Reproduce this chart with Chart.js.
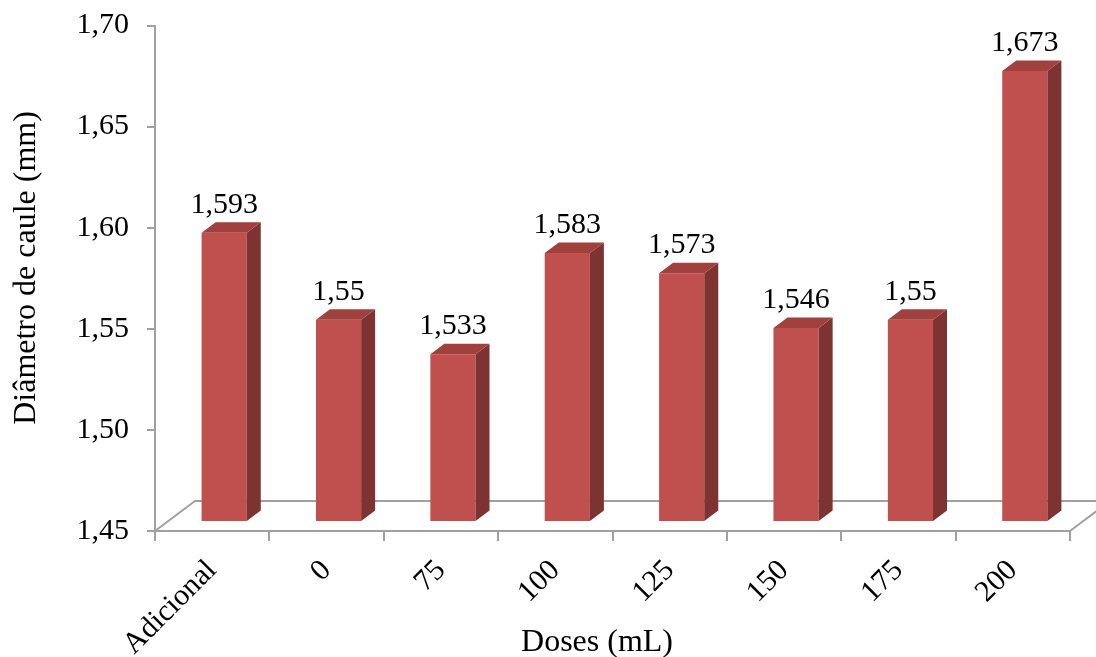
<!DOCTYPE html>
<html>
<head>
<meta charset="utf-8">
<title>Diâmetro de caule</title>
<script src="https://cdn.jsdelivr.net/npm/chart.js@4/dist/chart.umd.min.js"></script>
<style>
  html, body { margin: 0; padding: 0; background: #ffffff; }
  canvas { display: block; }
</style>
</head>
<body>
<canvas id="chart" width="1096" height="657"></canvas>
<script>
// Stem diameter per dose
const categories = ['Adicional', '0', '75', '100', '125', '150', '175', '200'];
const diametro = [1.593, 1.55, 1.533, 1.583, 1.573, 1.546, 1.55, 1.673];
const yMin = 1.45;
const yMax = 1.70;
const yStep = 0.05;
const xTitle = 'Doses (mL)';
const yTitle = 'Diâmetro de caule (mm)';

const FONT = '"Liberation Serif", "Times New Roman", serif';
const AXIS_GRAY = '#a0a0a0';
const FRONT = '#c0504d';
const SIDE = '#7d3331';
const TOP = '#a0413e';

// floor depth in pixels, and where the boxes sit inside that depth (0 = front, 1 = back)
const DEPTH_X = 40;
const DEPTH_Y = -30;
const BAR_FRONT = 0.3;
const BAR_BACK = 0.65;

const comma = v => String(v).replace('.', ',');

const boxes3d = {
  id: 'boxes3d',
  beforeDatasetsDraw(chart) {
    const { ctx, chartArea: a } = chart;
    ctx.save();
    ctx.strokeStyle = AXIS_GRAY;
    ctx.lineWidth = 2;
    ctx.beginPath();
    ctx.moveTo(a.left, a.bottom);
    ctx.lineTo(a.left + DEPTH_X, a.bottom + DEPTH_Y);
    ctx.lineTo(a.right + DEPTH_X, a.bottom + DEPTH_Y);
    ctx.lineTo(a.right, a.bottom);
    ctx.stroke();
    ctx.restore();
  },
  beforeDatasetDraw(chart) {
    const ctx = chart.ctx;
    ctx.save();
    ctx.translate(DEPTH_X * BAR_FRONT, DEPTH_Y * BAR_FRONT);
  },
  afterDatasetDraw(chart, args) {
    const ctx = chart.ctx;
    const dx = DEPTH_X * (BAR_BACK - BAR_FRONT);
    const dy = DEPTH_Y * (BAR_BACK - BAR_FRONT);
    const values = chart.data.datasets[args.index].data;
    args.meta.data.forEach((bar, i) => {
      const { x, y, base, width } = bar.getProps(['x', 'y', 'base', 'width'], true);
      const l = x - width / 2;
      const r = x + width / 2;
      // right side face
      ctx.fillStyle = SIDE;
      ctx.beginPath();
      ctx.moveTo(r, y);
      ctx.lineTo(r + dx, y + dy);
      ctx.lineTo(r + dx, base + dy);
      ctx.lineTo(r, base);
      ctx.closePath();
      ctx.fill();
      // top face
      ctx.fillStyle = TOP;
      ctx.beginPath();
      ctx.moveTo(l, y);
      ctx.lineTo(l + dx, y + dy);
      ctx.lineTo(r + dx, y + dy);
      ctx.lineTo(r, y);
      ctx.closePath();
      ctx.fill();
      // value label
      ctx.fillStyle = '#000000';
      ctx.font = '30px ' + FONT;
      ctx.textAlign = 'center';
      ctx.textBaseline = 'alphabetic';
      ctx.fillText(comma(values[i]), x, y - 20);
    });
    ctx.restore();
  },
  afterDraw(chart) {
    const ctx = chart.ctx;
    ctx.save();
    ctx.fillStyle = '#000000';
    ctx.font = '32px ' + FONT;
    ctx.textAlign = 'center';
    ctx.textBaseline = 'alphabetic';
    ctx.fillText(xTitle, 597, 651);
    ctx.translate(35, 268);
    ctx.rotate(-Math.PI / 2);
    ctx.fillText(yTitle, 0, 0);
    ctx.restore();
  }
};

new Chart(document.getElementById('chart'), {
  type: 'bar',
  data: {
    labels: categories,
    datasets: [{
      data: diametro,
      base: yMin,
      backgroundColor: FRONT,
      borderWidth: 0,
      categoryPercentage: 1,
      barPercentage: 0.395,
      clip: false
    }]
  },
  options: {
    responsive: false,
    animation: false,
    devicePixelRatio: 1,
    layout: { padding: { top: 25.5, right: 26, left: 0, bottom: 0 } },
    plugins: {
      legend: { display: false },
      tooltip: { enabled: false }
    },
    scales: {
      x: {
        grid: {
          offset: true,
          drawOnChartArea: false,
          drawTicks: true,
          tickLength: 10,
          color: AXIS_GRAY,
          lineWidth: 2
        },
        border: { color: AXIS_GRAY, width: 2 },
        ticks: {
          autoSkip: false,
          minRotation: 45,
          maxRotation: 45,
          padding: 12,
          color: '#000000',
          font: { family: FONT, size: 30 }
        },
        afterFit(scale) {
          scale.height = 126;
          scale.paddingLeft = 0;
          scale.paddingRight = 0;
        }
      },
      y: {
        min: yMin,
        max: yMax,
        grid: {
          drawOnChartArea: false,
          tickLength: 8,
          color: AXIS_GRAY,
          lineWidth: 2
        },
        border: { color: AXIS_GRAY, width: 2 },
        ticks: {
          stepSize: yStep,
          padding: 18,
          color: '#000000',
          font: { family: FONT, size: 30 },
          callback: v => Number(v).toFixed(2).replace('.', ',')
        },
        afterFit(scale) {
          scale.width = 155;
          scale.paddingTop = 0;
          scale.paddingBottom = 0;
        }
      }
    }
  },
  plugins: [boxes3d]
});
</script>
</body>
</html>
